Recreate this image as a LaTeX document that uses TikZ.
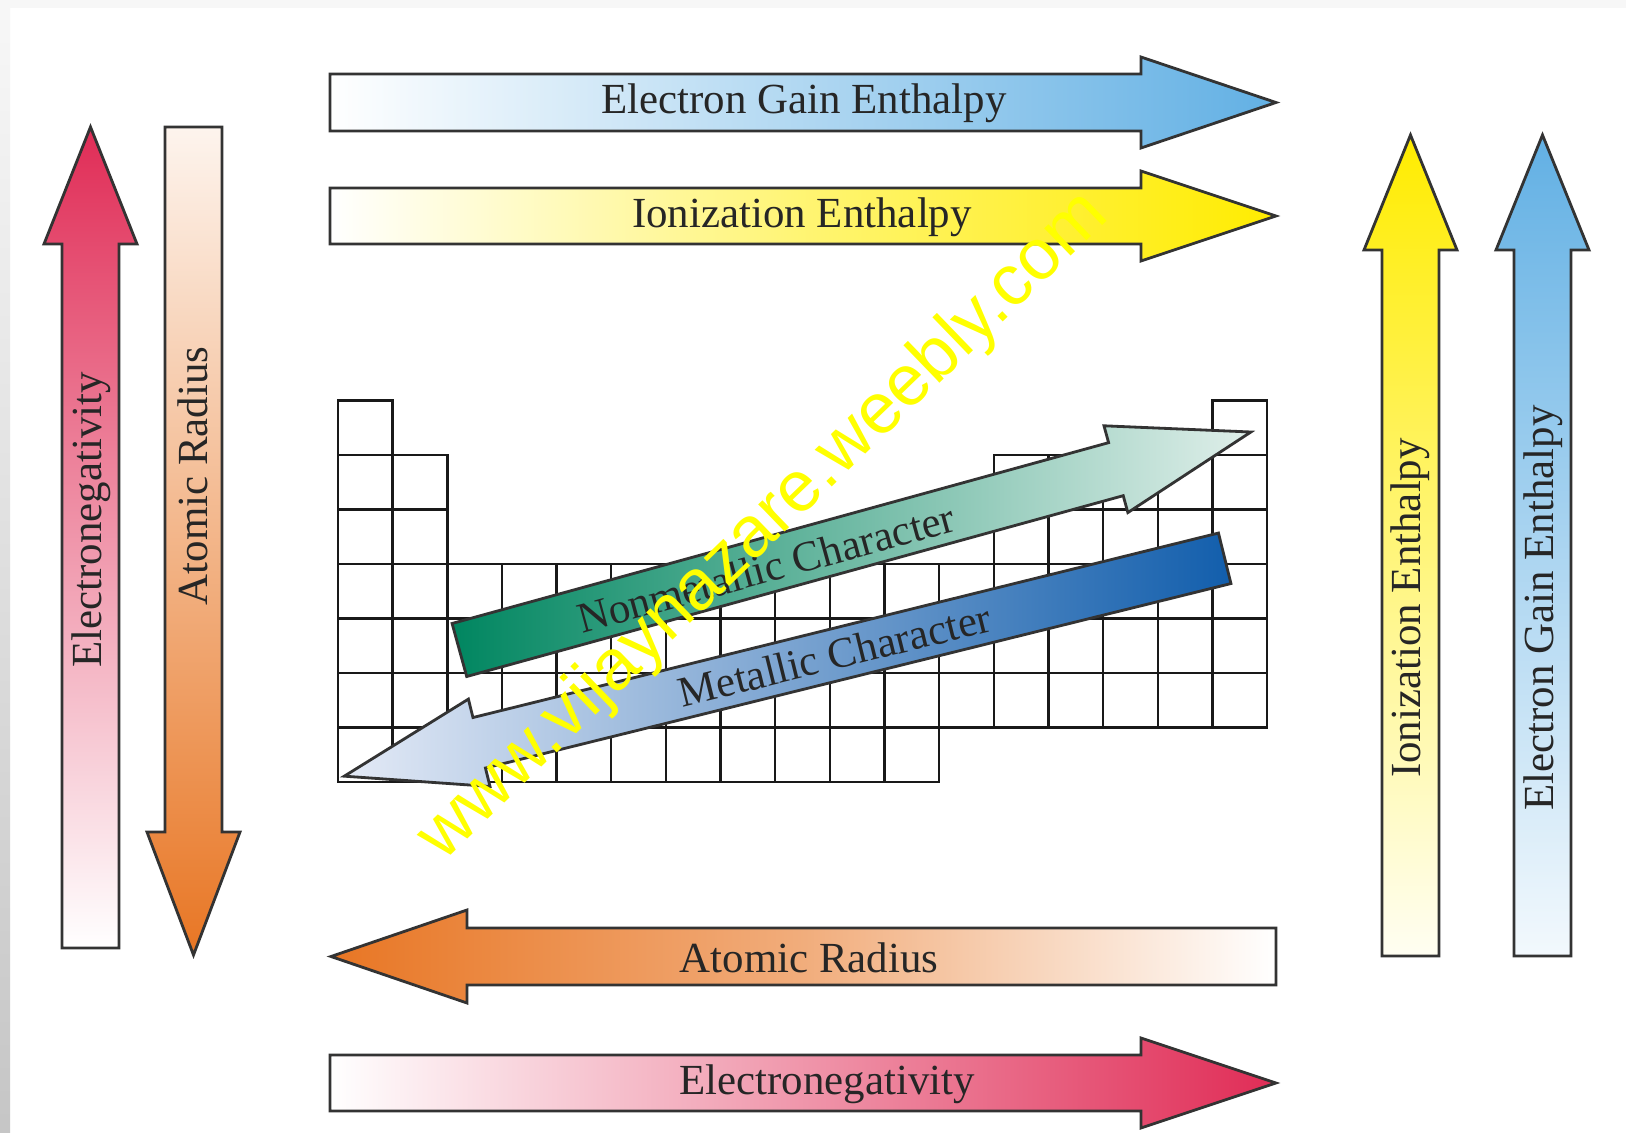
\documentclass[tikz,border=0pt]{standalone}
\usepackage{fontspec}
\setmainfont{Liberation Serif}
\newfontfamily\wmfont{Liberation Sans}

\definecolor{egblue}{RGB}{98,176,228}
\definecolor{ieyellow}{RGB}{255,236,0}
\definecolor{arorange}{RGB}{232,118,36}
\definecolor{enred}{RGB}{224,44,86}
\definecolor{nmgreen}{RGB}{0,134,96}
\definecolor{nmpale}{RGB}{224,239,234}
\definecolor{mblue}{RGB}{18,94,172}
\definecolor{mpale}{RGB}{228,234,246}
\definecolor{wmyellow}{RGB}{255,255,0}

\begin{document}
\begin{tikzpicture}[
			x=0.01cm, y=-0.01cm,
			bigarrow/.style={draw=black!80, line width=0.8pt, line join=miter},
			lbl/.style={font=\fontsize{12.2}{14}\selectfont, text=black!85, inner sep=0pt},
			cell/.style={draw=black!90, line width=0.7pt}
			]
			
			% Frame
			\useasboundingbox (0,0) rectangle (1626,1133);
			\fill[white] (0,0) rectangle (1626,1133);
			\fill[gray!6] (0,0) rectangle (1626,8);
			\shade[top color=gray!6, bottom color=gray!45] (0,0) rectangle (10,1133);
			
			% Table
			\foreach \r/\cl in {1/{1,17}, 2/{1,2,13,14,15,16,17}, 3/{1,2,13,14,15,16,17}, 4/{1,...,17}, 5/{1,...,17}, 6/{1,...,17}, 7/{1,...,11}}
				\foreach \c in \cl
					\draw[cell] ({338+(\c-1)*54.65},{400.5+(\r-1)*54.5}) rectangle ++(54.65,54.5);
			
			% Arrows
			\draw[bigarrow, left color=white, right color=egblue]
				(330,74) -- (1141,74) -- (1141,57) -- (1276,102.5) -- (1141,148) -- (1141,131) -- (330,131) -- cycle;
			\draw[bigarrow, left color=white, right color=ieyellow, middle color=ieyellow!55]
				(330,188) -- (1141,188) -- (1141,171) -- (1276,216) -- (1141,261) -- (1141,244) -- (330,244) -- cycle;
			\draw[bigarrow, left color=arorange, right color=white, middle color=arorange!60]
				(1276,928) -- (467,928) -- (467,910) -- (331,956.5) -- (467,1003) -- (467,985) -- (1276,985) -- cycle;
			\draw[bigarrow, left color=white, right color=enred]
				(330,1055) -- (1141,1055) -- (1141,1038) -- (1276,1083) -- (1141,1128) -- (1141,1111) -- (330,1111) -- cycle;
			
			\draw[bigarrow, top color=enred, bottom color=white]
				(62,948) -- (62,244) -- (44,244) -- (90.5,127) -- (137,244) -- (119,244) -- (119,948) -- cycle;
			\draw[bigarrow, top color=arorange!8, bottom color=arorange]
				(165,127) -- (165,832) -- (147,832) -- (193.5,955) -- (240,832) -- (222,832) -- (222,127) -- cycle;
			\draw[bigarrow, top color=ieyellow, bottom color=ieyellow!5]
				(1382,956) -- (1382,250) -- (1364,250) -- (1410.5,135) -- (1457,250) -- (1439,250) -- (1439,956) -- cycle;
			\draw[bigarrow, top color=egblue, bottom color=egblue!8]
				(1514,956) -- (1514,250) -- (1496,250) -- (1542.5,135) -- (1589,250) -- (1571,250) -- (1571,956) -- cycle;
			
			\begin{scope}[shift={(459.4,650)}, rotate=15.4]
				\draw[bigarrow, left color=nmgreen, right color=nmpale]
					(0,-27.5) -- (681,-27.5) -- (681,-45) -- (821,0) -- (681,45) -- (681,27.5) -- (0,27.5) -- cycle;
			\end{scope}
			\begin{scope}[shift={(1224.7,558.3)}, rotate=193.9]
				\draw[bigarrow, left color=mpale, right color=mblue]
					(0,-26) -- (768,-26) -- (768,-45) -- (907,0) -- (768,45) -- (768,26) -- (0,26) -- cycle;
			\end{scope}
			
			% Nodes
			\node[lbl] (egtop) at (804,103) {Electron Gain Enthalpy};
			\node[lbl] (ietop) at (802,217) {Ionization Enthalpy};
			\node[lbl] (arbot) at (809,958) {Atomic Radius};
			\node[lbl] (enbot) at (827,1084) {Electronegativity};
			\node[lbl, rotate=90] (enleft) at (91,520) {Electronegativity};
			\node[lbl, rotate=90] (arleft) at (193,476) {Atomic Radius};
			\node[lbl, rotate=90] (ieright) at (1410,608) {Ionization Enthalpy};
			\node[lbl, rotate=90] (egright) at (1543,608) {Electron Gain Enthalpy};
			\node[lbl, rotate=15.4] (nmchar) at (766,568) {Nonmetallic Character};
			\node[lbl, rotate=13.9] (mchar) at (834.5,655) {Metallic Character};
			
			\node[font=\wmfont\fontsize{20.4}{24}\selectfont, text=wmyellow, rotate=44] (wmark) at (764,527) {www.vijaynazare.weebly.com};
			
		\end{tikzpicture}
\end{document}
